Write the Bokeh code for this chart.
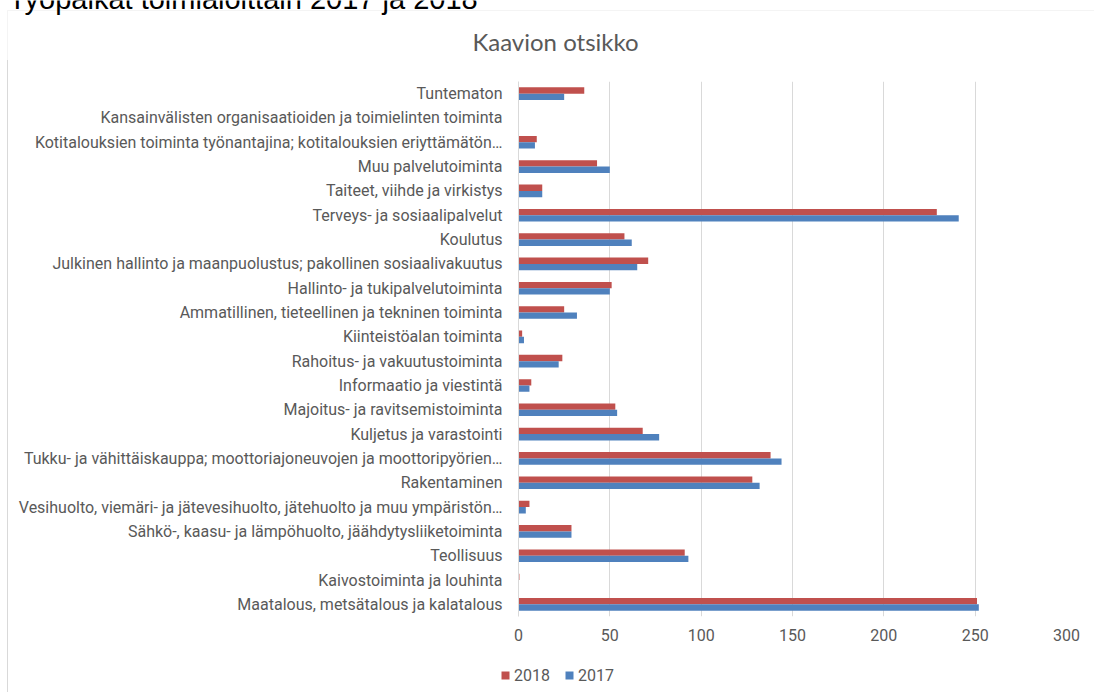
from bokeh.plotting import figure
from bokeh.layouts import column
from bokeh.models import (FactorRange, Range1d, ColumnDataSource, Legend,
                          LegendItem, FixedTicker, Label, BoxAnnotation)
from bokeh.transform import dodge
from bokeh.embed import file_html
from bokeh.resources import INLINE

# categories listed bottom -> top
categories = [
    "Maatalous, metsätalous ja kalatalous",
    "Kaivostoiminta ja louhinta",
    "Teollisuus",
    "Sähkö-, kaasu- ja lämpöhuolto, jäähdytysliiketoiminta",
    "Vesihuolto, viemäri- ja jätevesihuolto, jätehuolto ja muu ympäristön…",
    "Rakentaminen",
    "Tukku- ja vähittäiskauppa; moottoriajoneuvojen ja moottoripyörien…",
    "Kuljetus ja varastointi",
    "Majoitus- ja ravitsemistoiminta",
    "Informaatio ja viestintä",
    "Rahoitus- ja vakuutustoiminta",
    "Kiinteistöalan toiminta",
    "Ammatillinen, tieteellinen ja tekninen toiminta",
    "Hallinto- ja tukipalvelutoiminta",
    "Julkinen hallinto ja maanpuolustus; pakollinen sosiaalivakuutus",
    "Koulutus",
    "Terveys- ja sosiaalipalvelut",
    "Taiteet, viihde ja virkistys",
    "Muu palvelutoiminta",
    "Kotitalouksien toiminta työnantajina; kotitalouksien eriyttämätön…",
    "Kansainvälisten organisaatioiden ja toimielinten toiminta",
    "Tuntematon",
]
values_2018 = [251, 0.5, 91, 29, 6, 128, 138, 68, 53, 7, 24, 2, 25, 51, 71, 58, 229, 13, 43, 10, 0, 36]
values_2017 = [252, 0, 93, 29, 4, 132, 144, 77, 54, 6, 22, 3, 32, 50, 65, 62, 241, 13, 50, 9, 0, 25]
series_names = ["2018", "2017"]
x_ticks = [0, 50, 100, 150, 200, 250, 300]

page_title = "Työpaikat toimialoittain 2017 ja 2018"
chart_title = "Kaavion otsikko"

RED = "#C0504D"
BLUE = "#4F81BD"
GRAY_TXT = "#595959"
GRID = "#D9D9D9"
LABEL_FONT = "Roboto"
BORDER_CSS = {"border-left": "1px solid #D9D9D9"}


def bare(fig):
    fig.outline_line_color = None
    fig.background_fill_color = "white"
    fig.border_fill_color = "white"
    try:
        fig.frame_align = False
    except Exception:
        pass
    return fig


source = ColumnDataSource(data=dict(cat=categories, v2018=values_2018, v2017=values_2017))

# ---- header: page title (cut at top like the reference) + chart title ----
header = bare(figure(width=1094, height=60, output_backend="svg", toolbar_location=None,
                     x_range=Range1d(0, 1094), y_range=Range1d(0, 60),
                     x_axis_location=None, y_axis_location=None,
                     min_border_left=0, min_border_right=0, min_border_top=0, min_border_bottom=0))
header.grid.visible = False
header.add_layout(BoxAnnotation(left=7, right=3000, top=10, bottom=3000,
                                left_units="canvas", right_units="canvas",
                                top_units="canvas", bottom_units="canvas",
                                fill_alpha=0, line_color=GRID, line_width=1))
header.add_layout(Label(x=8, y=-2, x_units="canvas", y_units="canvas", text=page_title,
                        text_font="Liberation Sans", text_font_size="29px", text_color="black",
                        text_align="left", text_baseline="alphabetic"))
header.add_layout(Label(x=555, y=41, x_units="canvas", y_units="canvas", text=chart_title,
                        text_font="Lato", text_font_size="24px", text_color=GRAY_TXT,
                        text_align="center", text_baseline="alphabetic"))

# ---- main bar chart ----
p = bare(figure(width=1085, height=590, output_backend="svg", toolbar_location=None,
                y_range=FactorRange(factors=categories), x_range=Range1d(0, 300),
                min_border_left=510, min_border_right=27, min_border_top=21, min_border_bottom=34,
                margin=(0, 0, 0, 7)))
p.styles = BORDER_CSS

r18 = p.hbar(y=dodge("cat", 0.13, range=p.y_range), right="v2018", left=0, height=0.26,
             source=source, fill_color=RED, line_color=None)
r17 = p.hbar(y=dodge("cat", -0.13, range=p.y_range), right="v2017", left=0, height=0.26,
             source=source, fill_color=BLUE, line_color=None)

p.ygrid.grid_line_color = None
p.xgrid.grid_line_color = GRID
p.xgrid.grid_line_width = 1
p.xaxis.ticker = FixedTicker(ticks=x_ticks)

p.xaxis.axis_line_color = None
p.xaxis.major_tick_line_color = None
p.xaxis.minor_tick_line_color = None
p.xaxis.major_tick_out = 0
p.xaxis.major_tick_in = 0
p.xaxis.major_label_standoff = 12
p.xaxis.major_label_text_font = LABEL_FONT
p.xaxis.major_label_text_font_size = "16px"
p.xaxis.major_label_text_color = GRAY_TXT

p.yaxis.axis_line_color = GRID
p.yaxis.major_tick_line_color = None
p.yaxis.minor_tick_line_color = None
p.yaxis.major_tick_out = 0
p.yaxis.major_tick_in = 0
p.yaxis.major_label_standoff = 16
p.yaxis.major_label_text_font = LABEL_FONT
p.yaxis.major_label_text_font_size = "16px"
p.yaxis.major_label_text_color = GRAY_TXT

# ---- legend strip (legend keyed to the same series, hidden duplicates) ----
lg = bare(figure(width=1085, height=42, output_backend="svg", toolbar_location=None,
                 y_range=p.y_range, x_range=p.x_range,
                 x_axis_location=None, y_axis_location=None,
                 min_border_left=0, min_border_right=0, min_border_top=0, min_border_bottom=0,
                 margin=(0, 0, 0, 7)))
lg.styles = BORDER_CSS
lg.grid.visible = False
l18 = lg.hbar(y="cat", right="v2018", left=0, height=0.26, source=source,
              fill_color=RED, line_color=None, visible=False)
l17 = lg.hbar(y="cat", right="v2017", left=0, height=0.26, source=source,
              fill_color=BLUE, line_color=None, visible=False)

legend = Legend(items=[LegendItem(label=series_names[0], renderers=[l18]),
                       LegendItem(label=series_names[1], renderers=[l17])],
                orientation="horizontal", location=(492, 7),
                glyph_width=10, glyph_height=10, label_standoff=4, spacing=14,
                padding=0, margin=0, border_line_color=None, background_fill_alpha=0,
                inactive_fill_alpha=0,
                label_text_font=LABEL_FONT, label_text_font_size="16px",
                label_text_color=GRAY_TXT, label_height=20)
lg.add_layout(legend, "center")

layout = column(header, p, lg, spacing=0)

open("out.html", "w").write(file_html(layout, INLINE))
